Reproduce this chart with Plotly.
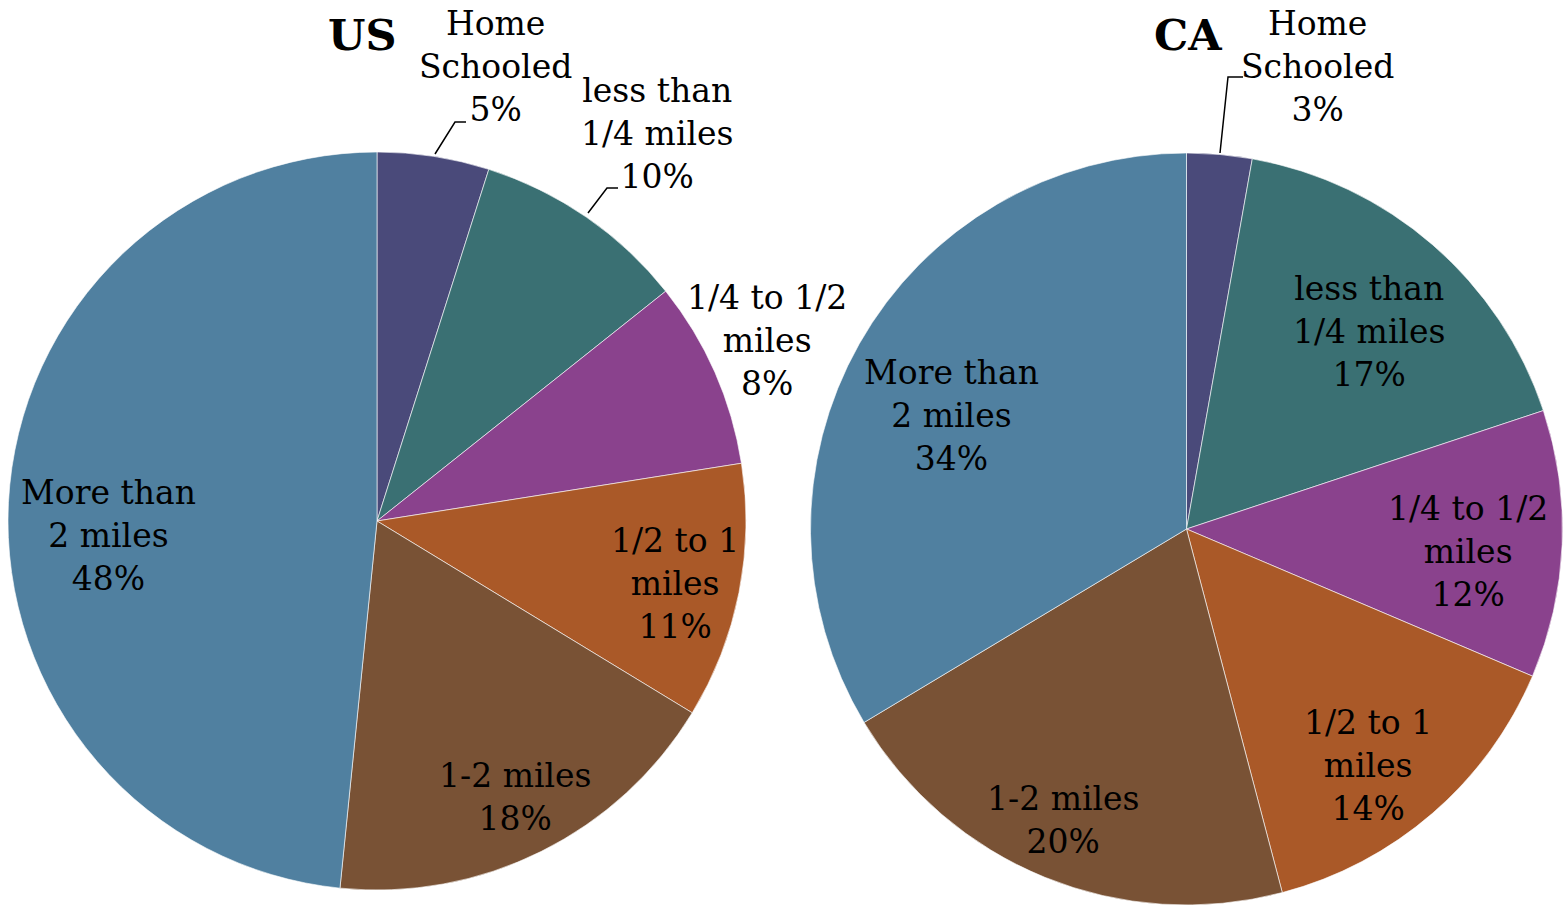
import plotly.graph_objects as go

# ---- data ----
categories = ["Home Schooled", "less than 1/4 miles", "1/4 to 1/2 miles",
              "1/2 to 1 miles", "1-2 miles", "More than 2 miles"]
label_lines = ["Home<br>Schooled", "less than<br>1/4 miles", "1/4 to 1/2<br>miles",
               "1/2 to 1<br>miles", "1-2 miles", "More than<br>2 miles"]
# slice shares
us_values = [4.9, 9.4, 8.2, 11.2, 17.9, 48.4]
ca_values = [2.8, 17.1, 11.5, 14.5, 20.5, 33.6]
# percentages as printed on the labels
us_pct_labels = [5, 10, 8, 11, 18, 48]
ca_pct_labels = [3, 17, 12, 14, 20, 34]
colors = ["#4A4A7A", "#3A7073", "#8A428D", "#AA5928", "#795235", "#5080A0"]

W, H = 1563, 905
FONT = "DejaVu Serif"

def px(x):
    return x / W

def py(y):
    return 1 - y / H

fig = go.Figure()

fig.add_trace(go.Pie(
    labels=categories, values=us_values, sort=False, direction="clockwise",
    rotation=0, textinfo="none", showlegend=False,
    marker=dict(colors=colors, line=dict(color="rgba(255,255,255,0.6)", width=1)),
    domain=dict(x=[px(8), px(746)], y=[py(890), py(152)]),
    name="US",
))
fig.add_trace(go.Pie(
    labels=categories, values=ca_values, sort=False, direction="clockwise",
    rotation=0, textinfo="none", showlegend=False,
    marker=dict(colors=colors, line=dict(color="rgba(255,255,255,0.6)", width=1)),
    domain=dict(x=[px(810), 1.0], y=[0.0, py(153)]),
    name="CA",
))

# label placements (pixel centres), one per slice
us_label_pos = [(495, 67), (657, 134), (767, 341), (675, 583), (515, 797), (108, 535)]
ca_label_pos = [(1317, 67), (1369, 331), (1468, 551), (1368, 765), (1063, 820), (951, 415)]

annotations = []
for pcts, pos in ((us_pct_labels, us_label_pos), (ca_pct_labels, ca_label_pos)):
    for lab, v, (x, y) in zip(label_lines, pcts, pos):
        annotations.append(dict(
            text=f"{lab}<br>{v}%", x=px(x), y=py(y), xref="paper", yref="paper",
            xanchor="center", yanchor="middle", showarrow=False, align="center",
            font=dict(family=FONT, size=33, color="#000000"),
        ))

annotations.append(dict(text="<b>US</b>", x=px(362), y=py(35), xref="paper", yref="paper",
                        xanchor="center", yanchor="middle", showarrow=False,
                        font=dict(family=FONT, size=43, color="#000000")))
annotations.append(dict(text="<b>CA</b>", x=px(1188), y=py(35), xref="paper", yref="paper",
                        xanchor="center", yanchor="middle", showarrow=False,
                        font=dict(family=FONT, size=43, color="#000000")))

# leader lines
leaders = [
    [(435, 154), (455, 122), (466, 122)],
    [(588, 213), (607, 188), (618, 188)],
    [(1220, 153), (1228, 77), (1243, 77)],
]
shapes = []
for pts in leaders:
    path = "M " + " L ".join(f"{px(x)},{py(y)}" for x, y in pts)
    shapes.append(dict(type="path", path=path, xref="paper", yref="paper",
                       line=dict(color="#000000", width=1.5)))

fig.update_layout(
    width=W, height=H, margin=dict(l=0, r=0, t=0, b=0),
    paper_bgcolor="white", plot_bgcolor="white",
    annotations=annotations, shapes=shapes,
)

fig.write_html("out.html", config={"displayModeBar": False},
               post_script="document.body.style.margin='0';document.body.style.overflow='hidden';")
